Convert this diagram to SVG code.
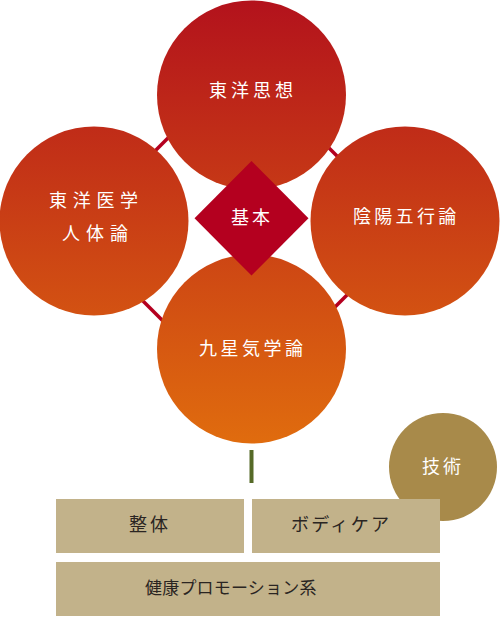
<svg xmlns="http://www.w3.org/2000/svg" width="500" height="617" viewBox="0 0 500 617">
<defs>
<linearGradient id="g" gradientUnits="userSpaceOnUse" x1="0" y1="0" x2="0" y2="444">
<stop offset="0" stop-color="#b3121c"/>
<stop offset="1" stop-color="#e06c0e"/>
</linearGradient>
<style>
.c{fill:url(#g)}
.t{font-family:"Noto Sans CJK JP","Noto Sans",sans-serif;font-size:18px;fill:#fff}
.d{fill:#2a2522}
.s{font-size:17px}
.l{stroke:#b4001f;stroke-width:3.5;fill:none}
.b{fill:#c2b28a}
</style>
</defs>
<rect width="500" height="617" fill="#fff"/>
<g id="connectors">
<line class="l" x1="150" y1="156" x2="175" y2="131"/>
<line class="l" x1="325" y1="144" x2="345" y2="164"/>
<line class="l" x1="135" y1="293" x2="170" y2="328"/>
<line class="l" x1="330" y1="312" x2="360" y2="282"/>
<rect x="249.5" y="450" width="4" height="33" fill="#566a28"/>
</g>
<g id="toyo-shiso">
<circle class="c" cx="251.5" cy="95" r="94.5"/>
<text class="t" x="209" y="96.5" letter-spacing="4">東洋思想</text>
</g>
<g id="toyo-igaku">
<circle class="c" cx="94" cy="221" r="94.5"/>
<text class="t" x="49" y="207" letter-spacing="5.7">東洋医学</text>
<text class="t" x="62" y="239.5" letter-spacing="6">人体論</text>
</g>
<g id="inyo-gogyo">
<circle class="c" cx="405" cy="221" r="94.5"/>
<text class="t" x="353" y="222.5" letter-spacing="3.3">陰陽五行論</text>
</g>
<g id="kyusei">
<circle class="c" cx="251.5" cy="349" r="94.5"/>
<text class="t" x="199" y="354.5" letter-spacing="3.5">九星気学論</text>
</g>
<g id="kihon">
<polygon points="251.5,161 308.5,218.3 251.5,275.6 194.5,218.3" fill="#b4001f"/>
<text class="t" x="231" y="223.5" letter-spacing="3">基本</text>
</g>
<g id="gijutsu">
<circle cx="443" cy="467" r="54" fill="#a88a4a"/>
<text class="t" x="422" y="472.5" letter-spacing="3">技術</text>
</g>
<g id="seitai">
<rect class="b" x="56" y="499" width="188" height="54"/>
<text class="t d" x="129" y="530.5" letter-spacing="3">整体</text>
</g>
<g id="bodycare">
<rect class="b" x="252" y="499" width="188" height="54"/>
<text class="t d" x="291" y="530.5" letter-spacing="2.3">ボディケア</text>
</g>
<g id="kenko">
<rect class="b" x="56" y="562" width="384" height="54"/>
<text class="t d s" x="145" y="593.5" letter-spacing="0.2">健康プロモーション系</text>
</g>
</svg>
